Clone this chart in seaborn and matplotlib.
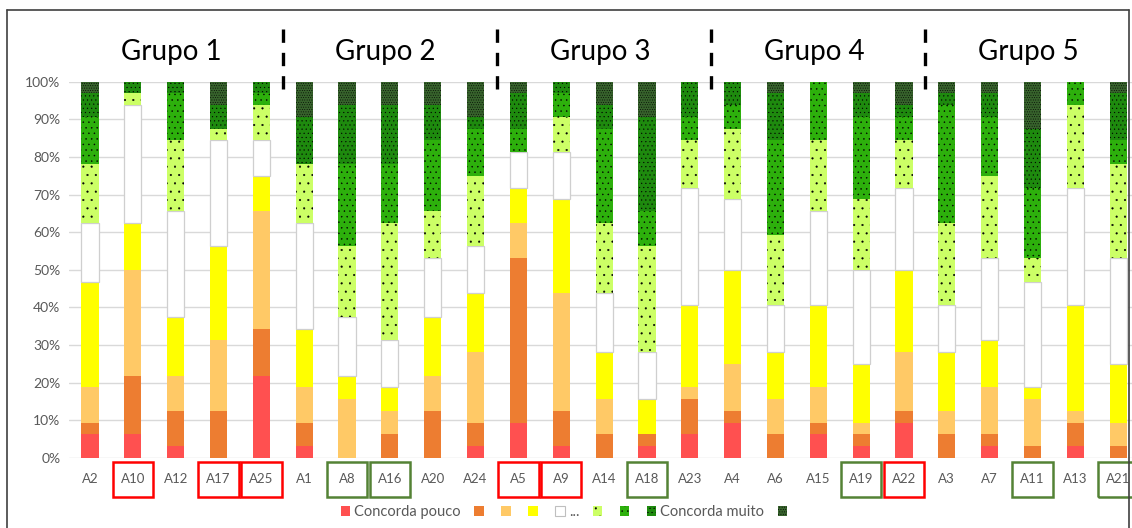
import matplotlib
matplotlib.use("Agg")
import matplotlib.pyplot as plt
import matplotlib.transforms as mtransforms
from matplotlib.colors import to_rgba
from matplotlib.lines import Line2D
from matplotlib.patches import Patch, Rectangle
from matplotlib.ticker import PercentFormatter
import pandas as pd
import seaborn as sns

# items in plotting order, 5 per group
items = ["A2", "A10", "A12", "A17", "A25",
         "A1", "A8", "A16", "A20", "A24",
         "A5", "A9", "A14", "A18", "A23",
         "A4", "A6", "A15", "A19", "A22",
         "A3", "A7", "A11", "A13", "A21"]
groups = ["Grupo 1", "Grupo 2", "Grupo 3", "Grupo 4", "Grupo 5"]
red_boxed = ["A10", "A17", "A25", "A5", "A9", "A22"]
green_boxed = ["A8", "A16", "A18", "A19", "A11", "A21"]

# answer counts (out of 32) per level, from "concorda pouco" up to "concorda muito"
nivel1 = [2, 2, 1, 0, 7, 1, 0, 0, 0, 1, 3, 1, 0, 1, 2, 3, 0, 2, 1, 3, 0, 1, 0, 1, 0]
nivel2 = [1, 5, 3, 4, 4, 2, 0, 2, 4, 2, 14, 3, 2, 1, 3, 1, 2, 1, 1, 1, 2, 1, 1, 2, 1]
nivel3 = [3, 9, 3, 6, 10, 3, 5, 2, 3, 6, 3, 10, 3, 0, 1, 4, 3, 3, 1, 5, 2, 4, 4, 1, 2]
nivel4 = [9, 4, 5, 8, 3, 5, 2, 2, 5, 5, 3, 8, 4, 3, 7, 8, 4, 7, 5, 7, 5, 4, 1, 9, 5]
nivel5 = [5, 10, 9, 9, 3, 9, 5, 4, 5, 4, 3, 4, 5, 4, 10, 6, 4, 8, 8, 7, 4, 7, 9, 10, 9]
nivel6 = [5, 1, 6, 1, 3, 5, 6, 10, 4, 6, 0, 3, 6, 9, 4, 6, 6, 6, 6, 4, 7, 7, 2, 7, 8]
nivel7 = [4, 0, 4, 0, 1, 0, 7, 5, 6, 4, 2, 2, 8, 3, 2, 2, 8, 5, 7, 2, 10, 5, 6, 2, 2]
nivel8 = [2, 1, 1, 2, 1, 4, 5, 5, 3, 1, 3, 1, 2, 8, 3, 2, 4, 0, 2, 1, 1, 2, 5, 0, 4]
nivel9 = [1, 0, 0, 2, 0, 3, 2, 2, 2, 3, 1, 0, 2, 3, 0, 0, 1, 0, 1, 2, 1, 1, 4, 0, 1]

levels = ["n1", "n2", "n3", "n4", "n5", "n6", "n7", "n8", "n9"]
legend_labels = ["Concorda pouco", "", "", "", "...", "", "", "Concorda muito", ""]
colors = ["#FF5050", "#ED7D31", "#FFC966", "#FFFF00", "#FFFFFF",
          "#CCFF66", "#2DB00C", "#1E8A0E", "#37632C"]
hatches = [None, None, None, None, None, "..", "...", "....", "......."]

counts = dict(zip(levels, [nivel1, nivel2, nivel3, nivel4, nivel5,
                           nivel6, nivel7, nivel8, nivel9]))
rows = []
for lv in levels:
    for it, n in zip(items, counts[lv]):
        rows.append({"item": it, "nivel": lv, "n": n})
df = pd.DataFrame(rows)

sns.set_style("white")
plt.rcParams["font.family"] = ["Lato", "DejaVu Sans"]
plt.rcParams["hatch.linewidth"] = 0.3

fig = plt.figure(figsize=(11.32, 5.28), dpi=100)
ax = fig.add_axes([68.6 / 1132, 0.1326, 1071 / 1132, 0.7127])

palette = dict(zip(levels, colors))
sns.histplot(data=df, x="item", hue="nivel", weights="n", multiple="fill",
             discrete=True, shrink=0.4, hue_order=levels[::-1], palette=palette,
             alpha=1, linewidth=0, legend=False, ax=ax)

# style the bars (hatching, borders) by matching their colour
style = {tuple(round(v, 3) for v in to_rgba(c)): (c, h) for c, h in zip(colors, hatches)}
for p in ax.patches:
    key = tuple(round(v, 3) for v in p.get_facecolor())
    if key not in style:
        continue
    c, h = style[key]
    if p.get_height() <= 0:
        p.set_visible(False)
        continue
    if c == "#FFFFFF":
        p.set_edgecolor("#CFCFCF")
        p.set_linewidth(0.9)
    elif h:
        p.set_edgecolor("black")
        p.set_hatch(h)
        p.set_linewidth(0)

ax.set_xlim(-0.5, len(items) - 0.5)
ax.set_ylim(0, 1)
ax.set_yticks([i / 10 for i in range(11)])
ax.yaxis.set_major_formatter(PercentFormatter(1.0, decimals=0))
ax.yaxis.grid(True, color="#D9D9D9", linewidth=1)
ax.set_axisbelow(True)
for s in ax.spines.values():
    s.set_visible(False)
ax.set_xlabel("")
ax.set_ylabel("")
ax.tick_params(axis="y", length=0, labelsize=10, labelcolor="#595959", pad=6)
ax.tick_params(axis="x", length=0, labelsize=9.5, labelcolor="#595959", pad=11)

trans = mtransforms.blended_transform_factory(ax.transData, ax.transAxes)

# boxes around some item labels
for i, it in enumerate(items):
    ec = None
    if it in red_boxed:
        ec = "#FF0000"
    elif it in green_boxed:
        ec = "#548235"
    if ec:
        ax.add_patch(Rectangle((i - 0.47, -0.104), 0.94, 0.093, transform=trans,
                               fill=False, edgecolor=ec, linewidth=1.8, clip_on=False))

# group titles and dashed separators
for g, name in enumerate(groups):
    ax.text(g * 5 + 2 - 0.1, 1.079, name, transform=trans, ha="center", va="center",
            fontsize=20, color="black")
for sep in [4.5, 9.5, 14.5, 19.5]:
    ax.plot([sep, sep], [0.98, 1.14], transform=trans, color="black", linewidth=2.4,
            linestyle=(0, (4, 3)), clip_on=False)

# outer frame
for xs, ys in [([7 / 1132, 7 / 1132], [0, 1 - 10 / 528]),
               ([7 / 1132, 1129 / 1132], [1 - 10 / 528, 1 - 10 / 528]),
               ([1129 / 1132, 1129 / 1132], [0, 1 - 10 / 528])]:
    fig.add_artist(Line2D(xs, ys, color="#404040", linewidth=1.2))

handles = []
for c, h in zip(colors, hatches):
    if c == "#FFFFFF":
        handles.append(Patch(facecolor=c, edgecolor="#BFBFBF", linewidth=0.8))
    elif h:
        handles.append(Patch(facecolor=c, edgecolor="black", hatch=h, linewidth=0))
    else:
        handles.append(Patch(facecolor=c, linewidth=0))
fig.legend(handles, legend_labels, loc="center", bbox_to_anchor=(0.5, 0.03), ncol=9,
           frameon=False, fontsize=10.5, handlelength=0.65, handleheight=0.65,
           handletextpad=0.3, columnspacing=0.9, labelcolor="#595959")

fig.savefig("out.png", dpi=100)
